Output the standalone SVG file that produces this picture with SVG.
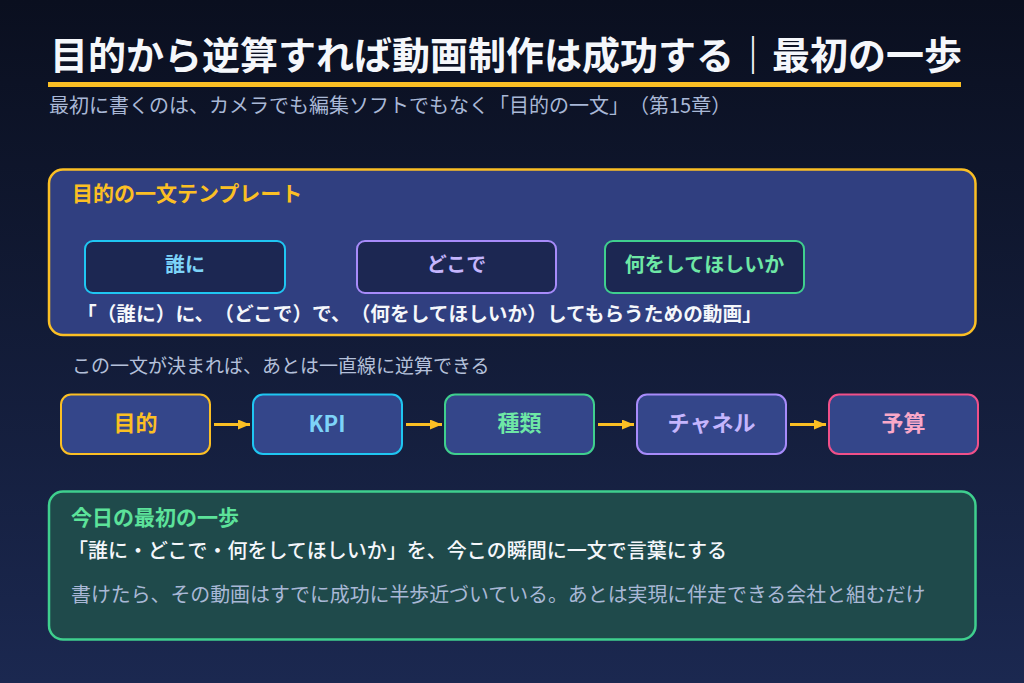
<svg xmlns="http://www.w3.org/2000/svg" width="1024" height="683" viewBox="0 0 1024 683">
<defs>
<linearGradient id="bg" x1="0" y1="0" x2="0" y2="1">
<stop offset="0" stop-color="#0a0f1f"/>
<stop offset="1" stop-color="#1b2850"/>
</linearGradient>
<marker id="ah" viewBox="0 0 12 10" refX="12" refY="5" markerWidth="12" markerHeight="10" markerUnits="userSpaceOnUse" orient="auto">
<path d="M0,0 L12,5 L0,10 Z" fill="#fbbf24"/>
</marker>
<style>
text{font-family:"Noto Sans CJK JP","Noto Sans",sans-serif;text-spacing-trim:space-all;}
.title{font-size:38px;font-weight:700;fill:#f5f7fb;}
.sub{font-size:20px;fill:#a9b8d6;}
.lbl{font-size:21px;font-weight:700;}
.slot{fill:#1c2752;stroke-width:2;}
.slott{font-size:20px;font-weight:700;text-anchor:middle;}
.flow{fill:#34468a;stroke-width:2;}
.flowt{font-size:22px;font-weight:700;text-anchor:middle;}
.conn{stroke:#fbbf24;stroke-width:3;fill:none;}
</style>
</defs>
<rect width="1024" height="683" fill="url(#bg)"/>

<g id="header">
<text class="title" x="50" y="69">目的から逆算すれば動画制作は成功する｜最初の一歩</text>
<rect x="48" y="82" width="913" height="5" fill="#fbbf24"/>
<text class="sub" x="49" y="113">最初に書くのは、カメラでも編集ソフトでもなく「目的の一文」（第15章）</text>
</g>

<g id="template-panel">
<rect x="49" y="169.5" width="926.5" height="165.5" rx="14" fill="#303f80" stroke="#fbbf24" stroke-width="2.5"/>
<text class="lbl" x="72" y="201" fill="#fbbf24">目的の一文テンプレート</text>
</g>
<g id="slot-who">
<rect class="slot" x="85" y="241" width="200" height="52" rx="8" stroke="#1fc6f2"/>
<text class="slott" x="185" y="272" fill="#7dd3f8">誰に</text>
</g>
<g id="slot-where">
<rect class="slot" x="357" y="241" width="199" height="52" rx="8" stroke="#a78bfa"/>
<text class="slott" x="456.5" y="272" fill="#c4b5fd">どこで</text>
</g>
<g id="slot-what">
<rect class="slot" x="605" y="241" width="199" height="52" rx="8" stroke="#3fcf8e"/>
<text class="slott" x="704.5" y="272" fill="#6ee7a6">何をしてほしいか</text>
</g>
<g id="template-sentence">
<text x="77" y="321" font-size="19.7" font-weight="700" fill="#f5f7fb">「（誰に）に、（どこで）で、（何をしてほしいか）してもらうための動画」</text>
</g>

<g id="flow-caption">
<text x="72" y="373" font-size="19" fill="#b4c0da">この一文が決まれば、あとは一直線に逆算できる</text>
</g>

<g id="flow-purpose">
<rect class="flow" x="61" y="394.5" width="149" height="59.5" rx="10" stroke="#fbbf24"/>
<text class="flowt" x="135.5" y="430.5" fill="#fbbf24">目的</text>
</g>
<g id="flow-kpi">
<rect class="flow" x="253" y="394.5" width="149" height="59.5" rx="10" stroke="#1fc6f2"/>
<text class="flowt" x="327" y="431.5" font-size="27" fill="#7dd3f8">KPI</text>
</g>
<g id="flow-type">
<rect class="flow" x="445" y="394.5" width="149" height="59.5" rx="10" stroke="#3fcf8e"/>
<text class="flowt" x="519.5" y="430.5" fill="#6ee7a6">種類</text>
</g>
<g id="flow-channel">
<rect class="flow" x="637" y="394.5" width="149" height="59.5" rx="10" stroke="#a78bfa"/>
<text class="flowt" x="711.5" y="430.5" fill="#c4b5fd">チャネル</text>
</g>
<g id="flow-budget">
<rect class="flow" x="829" y="394.5" width="149" height="59.5" rx="10" stroke="#f0508a"/>
<text class="flowt" x="903.5" y="430.5" fill="#f9a8c8">予算</text>
</g>

<g id="connectors">
<line class="conn" x1="214" y1="424.5" x2="250" y2="424.5" marker-end="url(#ah)"/>
<line class="conn" x1="406" y1="424.5" x2="442" y2="424.5" marker-end="url(#ah)"/>
<line class="conn" x1="598" y1="424.5" x2="634" y2="424.5" marker-end="url(#ah)"/>
<line class="conn" x1="790" y1="424.5" x2="826" y2="424.5" marker-end="url(#ah)"/>
</g>

<g id="first-step-panel">
<rect x="49" y="491.5" width="926.5" height="148" rx="14" fill="#1f4a4b" stroke="#3fcf8e" stroke-width="2.5"/>
<text class="lbl" x="71" y="525" font-size="21.5" fill="#5ce29a">今日の最初の一歩</text>
<text x="68" y="558" font-size="20" font-weight="500" fill="#f5f7fb">「誰に・どこで・何をしてほしいか」を、今この瞬間に一文で言葉にする</text>
<text x="71" y="601.5" font-size="19.9" fill="#a9b8d6">書けたら、その動画はすでに成功に半歩近づいている。あとは実現に伴走できる会社と組むだけ</text>
</g>
</svg>
